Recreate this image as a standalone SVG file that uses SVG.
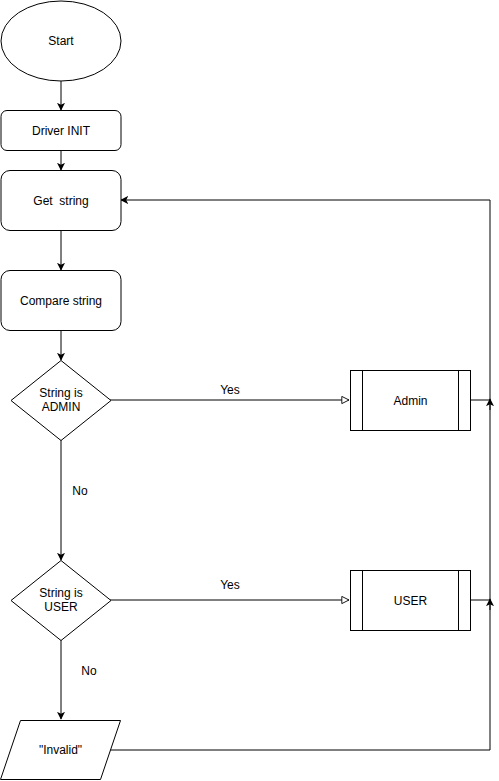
<svg xmlns="http://www.w3.org/2000/svg" width="499" height="781" viewBox="0 0 499 781">
<style>
.s{fill:#fff;stroke:#000;stroke-width:1}
.t{font-family:"Liberation Sans",Arial,Helvetica,sans-serif;font-size:12px;fill:#000;text-anchor:middle;dominant-baseline:central}
.c{fill:none;stroke:#000;stroke-width:1}
</style>
<defs>
<marker id="a" viewBox="0 0 10 10" refX="9" refY="5" markerWidth="8" markerHeight="8" markerUnits="userSpaceOnUse" orient="auto">
<path d="M0,0 L10,5 L0,10 L2.5,5 Z" fill="#000"/>
</marker>
<marker id="o" viewBox="0 0 10 10" refX="9" refY="5" markerWidth="9" markerHeight="9" markerUnits="userSpaceOnUse" orient="auto">
<path d="M1,1 L9,5 L1,9 Z" fill="#fff" stroke="#000" stroke-width="1"/>
</marker>
</defs>
<rect width="499" height="781" fill="#fff"/>
<g id="connectors">
<path class="c" d="M61,81 V110" marker-end="url(#a)"/>
<path class="c" d="M61,150 V170" marker-end="url(#a)"/>
<path class="c" d="M61,230 V270" marker-end="url(#a)"/>
<path class="c" d="M61,330 V360" marker-end="url(#a)"/>
<path class="c" d="M110,400 H349" marker-end="url(#o)"/>
<path class="c" d="M61,440 V560" marker-end="url(#a)"/>
<path class="c" d="M110,600 H349" marker-end="url(#o)"/>
<path class="c" d="M61,640 V719" marker-end="url(#a)"/>
<path class="c" d="M470,400 H490"/>
<path class="c" d="M470,600 H490"/>
<path class="c" d="M110,750 H490 V200 H121" marker-end="url(#a)"/>
<path class="c" d="M490,410 V399" marker-end="url(#a)"/>
<path class="c" d="M490,610 V599" marker-end="url(#a)"/>
<text class="t" x="230" y="390">Yes</text>
<text class="t" x="230" y="585">Yes</text>
<text class="t" x="80" y="491">No</text>
<text class="t" x="89" y="671">No</text>
</g>
<g id="start">
<ellipse class="s" cx="61" cy="41" rx="60" ry="40"/>
<text class="t" x="61" y="41">Start</text>
</g>
<g id="driver-init">
<rect class="s" x="1" y="110.5" width="120" height="40" rx="6"/>
<text class="t" x="61" y="130.5">Driver INIT</text>
</g>
<g id="get-string">
<rect class="s" x="1" y="170.5" width="120" height="60" rx="9"/>
<text class="t" x="61" y="200.5" xml:space="preserve">Get  string</text>
</g>
<g id="compare-string">
<rect class="s" x="1" y="270.5" width="120" height="60" rx="9"/>
<text class="t" x="61" y="300.5">Compare string</text>
</g>
<g id="is-admin">
<path class="s" d="M61,360.5 L111,400.5 L61,440.5 L11,400.5 Z"/>
<text class="t" x="61" y="393">String is</text>
<text class="t" x="61" y="407">ADMIN</text>
</g>
<g id="admin">
<rect class="s" x="350.5" y="370.5" width="120" height="60"/>
<path class="c" d="M362.5,370.5 V430.5 M458.5,370.5 V430.5"/>
<text class="t" x="410.5" y="400.5">Admin</text>
</g>
<g id="is-user">
<path class="s" d="M61,560.5 L111,600.5 L61,640.5 L11,600.5 Z"/>
<text class="t" x="61" y="593">String is</text>
<text class="t" x="61" y="607">USER</text>
</g>
<g id="user">
<rect class="s" x="350.5" y="570.5" width="120" height="60"/>
<path class="c" d="M362.5,570.5 V630.5 M458.5,570.5 V630.5"/>
<text class="t" x="410.5" y="600.5">USER</text>
</g>
<g id="invalid">
<path class="s" d="M20.5,720.5 H120.5 L100.5,779.5 H0.5 Z"/>
<text class="t" x="60.5" y="750">"Invalid"</text>
</g>
</svg>
